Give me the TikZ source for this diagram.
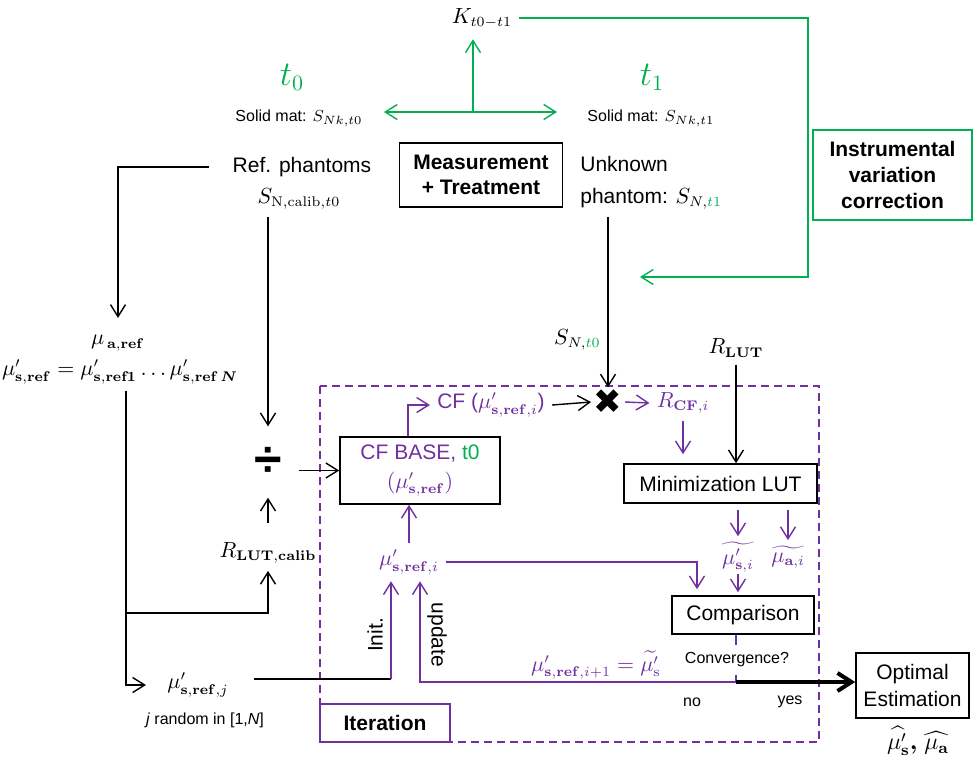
\documentclass[tikz,border=0pt]{standalone}
\usepackage{amsmath}
\usepackage[no-math]{fontspec}
\setmainfont{Liberation Sans}
\newfontfamily\djv{DejaVu Sans}
\usetikzlibrary{arrows.meta}
\definecolor{grn}{RGB}{0,176,80}
\definecolor{purp}{RGB}{112,48,160}
\begin{document}
\begin{tikzpicture}[x=0.5pt,y=-0.5pt,line width=0.7pt,font=\fontsize{10.5}{12.6}\selectfont,
    >={Straight Barb[length=6pt,width=7.5pt]},
    box/.style={draw,line width=0.8pt,align=center,inner sep=2pt},
    bbox/.style={box,font=\fontsize{10.5}{12.8}\selectfont\bfseries},
    small/.style={font=\fontsize{8}{9.6}\selectfont},
    big/.style={font=\fontsize{16}{16}\selectfont},
    parr/.style={->,purp},
    garr/.style={->,grn}]
    \useasboundingbox (0,0) rectangle (973,761);
    \node (K) at (482,18) {$K_{t0-t1}$};
    \node[big,grn] (tz) at (292,77) {$t_0$};
    \node[big,grn] (to) at (652,77) {$t_1$};
    \node[small] (smz) at (299,118) {Solid mat: $S_{Nk,t0}$};
    \node[small] (smo) at (651,118) {Solid mat: $S_{Nk,t1}$};
    \node (rp) at (302,167) {Ref. phantoms};
    \node (snc) at (299,199) {$S_{\mathrm{N,calib},t0}$};
    \node[bbox,minimum width=81.5pt,minimum height=32pt] (mt) at (481,175) {Measurement\\+ Treatment};
    \node[anchor=west,align=left] (up) at (573,183) {Unknown\\[3.4pt]phantom: $S_{N,\textcolor{grn}{t1}}$};
    \node[bbox,draw=grn,minimum width=79.5pt,minimum height=45pt] (ivc) at (892.5,175) {Instrumental\\variation\\correction};
    \coordinate (gc) at (473,112);
    \coordinate (gl) at (384,112);
    \coordinate (gr) at (557,112);
    \coordinate (gk) at (808,277);
    \coordinate (gin) at (640,277);
    \draw[garr] (gc) -- (gl);
    \draw[garr] (gc) -- (gr);
    \draw[garr,shorten >=2pt] (gc) -- (gc |- K.south);
    \draw[garr] (K.east) -| (gk) -- (gin);

    \node (mua) at (118,343) {$\mu_{\,\mathbf{a,ref}}$};
    \node (mus) at (120,372) {$\mu'_{\mathbf{s,ref}}=\mu'_{\mathbf{s,ref1}}\ldots\mu'_{\mathbf{s,ref}\,\boldsymbol{N}}$};
    \node (musj) at (198,685) {$\mu'_{\mathbf{s,ref},j}$};
    \node[small] (jr) at (205,720) {\textit{j} random in [1,\textit{N}]};
    \node (rlc) at (268,553) {$R_{\mathbf{LUT,calib}}$};
    \node[inner sep=0,minimum width=30pt,minimum height=35pt,font=\fontsize{25}{25}\selectfont\bfseries] (dv) at (268,462) {÷};
    \coordinate (br) at (126,613);
    \draw[->,shorten <=8pt] (rp.west) -| ([yshift=5pt]mua.north);
    \draw[->] ([xshift=3pt]mus.south) |- ([xshift=-7pt]musj.west);
    \draw[->] (br) -| (rlc.south);
    \draw[->] (snc.south -| dv) -- (dv.north);
    \draw[->,shorten <=6pt] (rlc.north) -- (dv.south);

    \draw[purp,dash pattern=on 4pt off 2.5pt] (320,386) rectangle (819,742);
    \node[box,draw=purp,minimum width=65pt,minimum height=19pt,font=\fontsize{10.5}{12.6}\selectfont\bfseries] (it) at (385,723) {Iteration};
    \node[box,text=purp,minimum width=80pt,minimum height=33.5pt] (cfb) at (420,470.5) {CF BASE, \textcolor{grn}{t0}\\[2pt]$(\mu'_{\mathbf{s,ref}})$};
    \draw[->] (dv.east |- cfb.west) -- (cfb.west);
    \node[purp] (cf) at (491,405) {CF ($\mu'_{\mathbf{s,ref},i}$)};
    \node[font=\djv\fontsize{17}{17}\selectfont,inner sep=1pt] (mx) at (608,402) {✖};
    \node[purp] (rcf) at (683,403) {$R_{\mathbf{CF},i}$};
    \node (rlut) at (736,348) {$R_{\mathbf{LUT}}$};
    \node[box,minimum width=96.5pt,minimum height=19.5pt] (ml) at (720.5,483.5) {Minimization LUT};
    \node[purp,inner sep=0.5pt] (mst) at (738,557) {$\widetilde{\mu'_{\mathbf{s},i}}$};
    \node[purp,inner sep=0.5pt] (mat) at (788,557) {$\widetilde{\mu_{\mathbf{a},i}}$};
    \node[box,minimum width=71pt,minimum height=19pt] (cmp) at (743,615) {Comparison};
    \node[small] (cv) at (737,660) {Convergence?};
    \node[purp] (musi) at (409,562) {$\mu'_{\mathbf{s,ref},i}$};
    \node[purp] (upd) at (596,665) {$\mu'_{\mathbf{s,ref},i+1}=\widetilde{\mu'_{\mathrm{s}}}$};
    \node[rotate=90] (ini) at (375,635) {Init.};
    \node[rotate=-90] (upl) at (437,635) {update};
    \node[small] (no) at (692,702) {no};
    \node[small] (yes) at (790,702) {yes};
    \node[box,minimum width=56.5pt,minimum height=32.5pt] (oe) at (912.5,685.5) {Optimal\\[1pt]Estimation};
    \node[font=\fontsize{12}{14}\selectfont,inner sep=0.5pt] (est) at (918,741) {$\widehat{\mu'_{\mathbf{s}}}\boldsymbol{,}\ \widehat{\mu_{\mathbf{a}}}$};
    \coordinate (ic) at (391,679);
    \coordinate (cj) at (736,682);

    \draw[parr] ([xshift=-6pt]cfb.north) |- (cf.west);
    \draw[->] (cf.east) -- (mx.west);
    \draw[->] (up.south -| mx) -- (mx.north) node[pos=0.72,left] {$S_{N,\textcolor{grn}{t0}}$};
    \draw[parr] (mx.east) -- (rcf.west);
    \draw[parr,shorten >=4.5pt] (rcf.south) -- (rcf.south |- ml.north);
    \draw[->] (rlut.south) -- (rlut.south |- ml.north);
    \draw[parr,shorten <=3pt,shorten >=2pt] (mst.north |- ml.south) -- (mst.north);
    \draw[parr,shorten <=3pt,shorten >=2pt] (mat.north |- ml.south) -- (mat.north);
    \draw[parr,shorten >=1.5pt] (mst.south) -- (mst.south |- cmp.north);
    \draw[parr] (musi.north) -- (musi.north |- cfb.south);
    \draw[parr] (musi.east) -| ([xshift=-23pt,yshift=3pt]cmp.north);
    \draw[purp] (cmp.south -| cj) -- (cv.north -| cj);
    \draw[purp] (cv.south -| cj) -- (cj);
    \draw[parr] (cj) -| ([xshift=5.5pt]musi.south);
    \draw[->,line width=2pt,>={Straight Barb[length=7pt,width=9pt]}] (cj) -- (cj -| oe.west);
    \draw[shorten <=9pt] (musj.east |- ic) -- (ic);
    \draw[parr] (ic) -- (ic |- musi.south);
\end{tikzpicture}
\end{document}
